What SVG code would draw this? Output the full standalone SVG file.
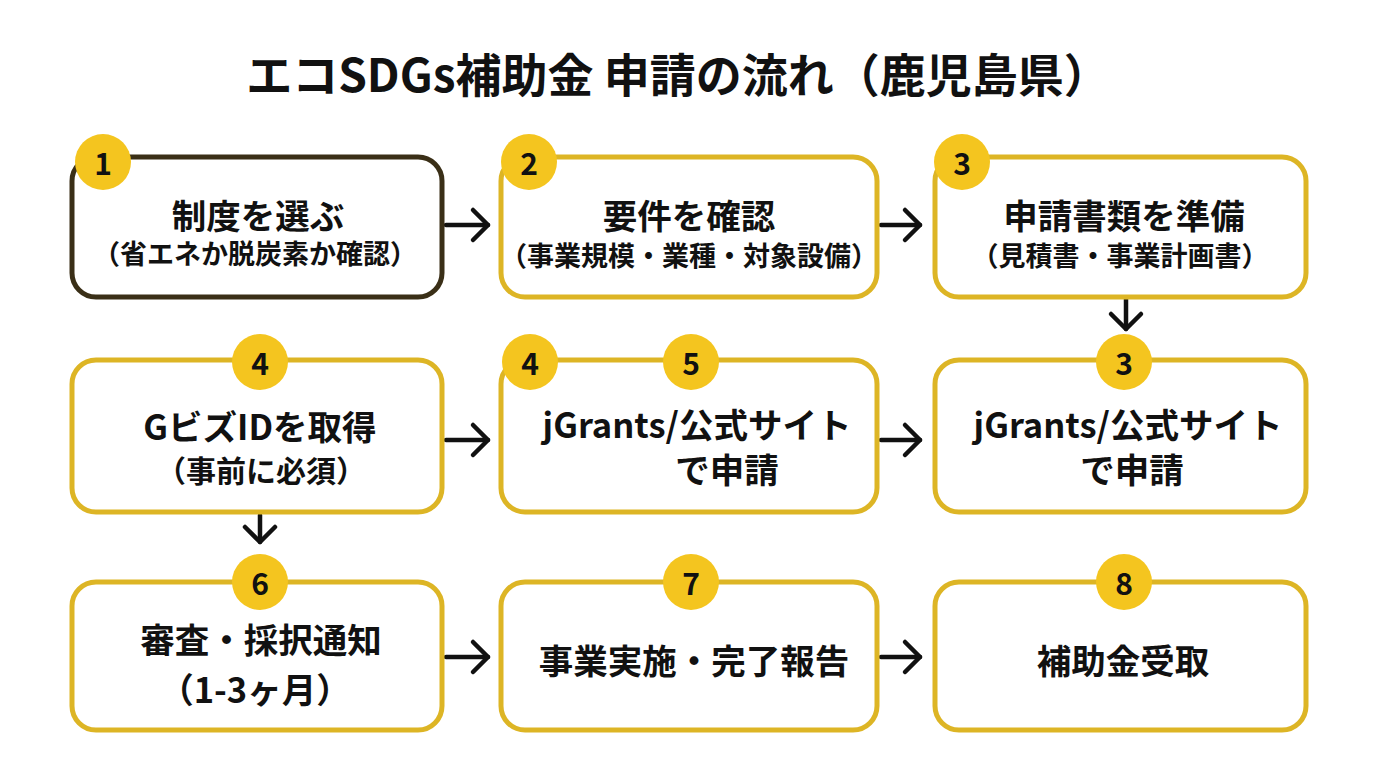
<svg xmlns="http://www.w3.org/2000/svg" width="1376" height="768" viewBox="0 0 1376 768">
<style>
text{font-family:"Noto Sans CJK JP","Noto Sans",sans-serif;font-weight:700;fill:#111;text-anchor:middle;dominant-baseline:central}
.box{fill:#fff;stroke:#DDB525;stroke-width:5}
.dark{stroke:#3A2F17}
.badge{fill:#F4C51F}
.num{font-size:30px}
.main{font-size:34.5px}
.sub{font-size:27px}
.sub2{font-size:30px}
.title{font-size:46px}
.conn line,.conn polyline{stroke:#111;stroke-width:4.5;fill:none;stroke-linecap:round;stroke-linejoin:round}
</style>
<rect width="1376" height="768" fill="#fff"/>
<text class="title" x="678" y="72">エコSDGs補助金 申請の流れ（鹿児島県）</text>

<g class="conn" id="connectors">
<line x1="446" y1="225" x2="488" y2="225"/><polyline points="473,210 488,225 473,240"/>
<line x1="881" y1="225" x2="920" y2="225"/><polyline points="905,210 920,225 905,240"/>
<line x1="1126" y1="299" x2="1126" y2="329"/><polyline points="1111,314 1126,329 1141,314"/>
<line x1="446" y1="440" x2="488" y2="440"/><polyline points="473,425 488,440 473,455"/>
<line x1="881" y1="440" x2="920" y2="440"/><polyline points="905,425 920,440 905,455"/>
<line x1="260" y1="515" x2="260" y2="542"/><polyline points="245,527 260,542 275,527"/>
<line x1="446" y1="657" x2="488" y2="657"/><polyline points="473,642 488,657 473,672"/>
<line x1="881" y1="657" x2="920" y2="657"/><polyline points="905,642 920,657 905,672"/>
</g>

<g id="step1">
<rect class="box dark" x="72" y="157" width="370" height="140" rx="24"/>
<circle class="badge" cx="103" cy="162" r="28"/><text class="num" x="103" y="162">1</text>
<text class="main" x="258" y="214">制度を選ぶ</text>
<text class="sub" x="255" y="252">（省エネか脱炭素か確認）</text>
</g>
<g id="step2">
<rect class="box" x="501" y="157" width="376" height="140" rx="24"/>
<circle class="badge" cx="529" cy="162" r="28"/><text class="num" x="529" y="162">2</text>
<text class="main" x="689" y="214">要件を確認</text>
<text class="sub" x="689" y="254">（事業規模・業種・対象設備）</text>
</g>
<g id="step3">
<rect class="box" x="935" y="157" width="371" height="140" rx="24"/>
<circle class="badge" cx="962" cy="162" r="28"/><text class="num" x="962" y="162">3</text>
<text class="main" x="1124" y="214">申請書類を準備</text>
<text class="sub" x="1120" y="254">（見積書・事業計画書）</text>
</g>
<g id="step4">
<rect class="box" x="72" y="360" width="370" height="152" rx="24"/>
<circle class="badge" cx="260" cy="362" r="28"/><text class="num" x="260" y="362">4</text>
<text class="main" x="260" y="425">GビズIDを取得</text>
<text class="sub2" x="261" y="469">（事前に必須）</text>
</g>
<g id="step5">
<rect class="box" x="501" y="360" width="376" height="152" rx="24"/>
<circle class="badge" cx="530" cy="362" r="28"/><text class="num" x="530" y="362">4</text>
<circle class="badge" cx="691" cy="362" r="28"/><text class="num" x="691" y="362">5</text>
<text class="main" x="697" y="423">jGrants/公式サイト</text>
<text class="main" x="727" y="468">で申請</text>
</g>
<g id="step6">
<rect class="box" x="935" y="360" width="371" height="152" rx="24"/>
<circle class="badge" cx="1124" cy="362" r="28"/><text class="num" x="1124" y="362">3</text>
<text class="main" x="1128" y="423">jGrants/公式サイト</text>
<text class="main" x="1132" y="468">で申請</text>
</g>
<g id="step7">
<rect class="box" x="72" y="582" width="370" height="148" rx="24"/>
<circle class="badge" cx="260" cy="582" r="28"/><text class="num" x="260" y="582">6</text>
<text class="main" x="261" y="638">審査・採択通知</text>
<text class="main" x="255" y="688">（1-3ヶ月）</text>
</g>
<g id="step8">
<rect class="box" x="501" y="582" width="376" height="148" rx="24"/>
<circle class="badge" cx="691" cy="582" r="28"/><text class="num" x="691" y="582">7</text>
<text class="main" x="694" y="659">事業実施・完了報告</text>
</g>
<g id="step9">
<rect class="box" x="935" y="582" width="371" height="148" rx="24"/>
<circle class="badge" cx="1124" cy="582" r="28"/><text class="num" x="1124" y="582">8</text>
<text class="main" x="1123" y="659">補助金受取</text>
</g>
</svg>
